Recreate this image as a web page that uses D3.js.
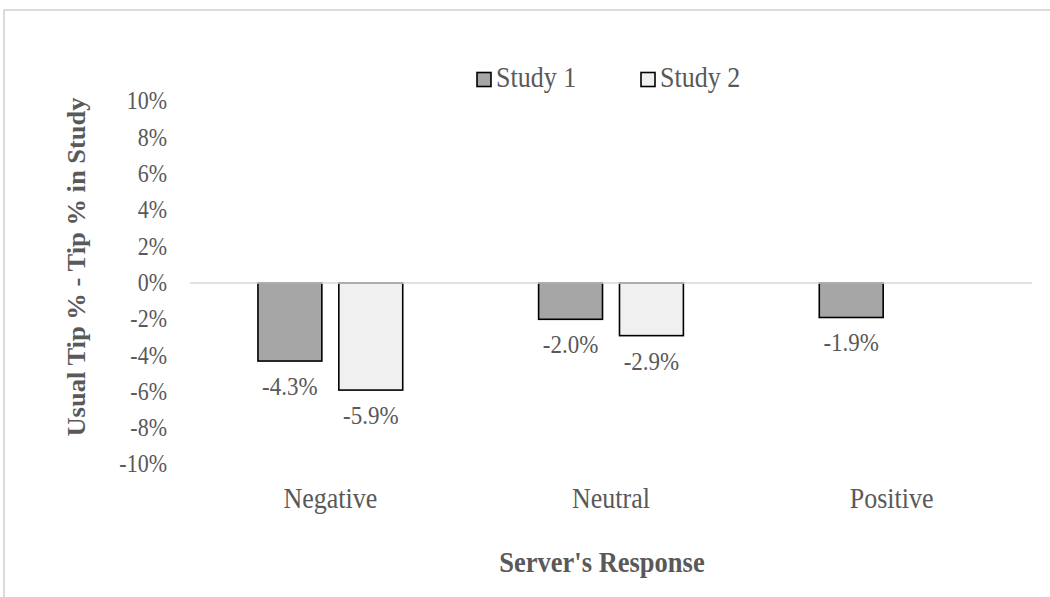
<!DOCTYPE html>
<html>
<head>
<meta charset="utf-8">
<script src="https://cdn.jsdelivr.net/npm/d3@7"></script>
<style>
  html, body { margin: 0; padding: 0; background: #ffffff; }
  svg { display: block; }
  text { font-family: "Liberation Serif", "Times New Roman", serif; fill: #595959; }
</style>
</head>
<body>
<svg id="chart" width="1050" height="597"></svg>
<script>
const categories = ["Negative", "Neutral", "Positive"];
const seriesNames = ["Study 1", "Study 2"];
const study1 = [-4.3, -2.0, -1.9];
const study2 = [-5.9, -2.9, null];
const yTicks = [-10, -8, -6, -4, -2, 0, 2, 4, 6, 8, 10];
const seriesColors = ["#a6a6a6", "#f0f0f0"];
const yTitle = "Usual Tip % - Tip % in Study";
const xTitle = "Server's Response";

const STRETCH = 1.12;
const svg = d3.select("#chart");

// chart border
svg.append("rect")
  .attr("x", 4).attr("y", 10)
  .attr("width", 1200).attr("height", 800)
  .attr("fill", "none")
  .attr("stroke", "#cfcfcf")
  .attr("stroke-width", 1.5);

const plot = { left: 190, right: 1032, top: 101.5, bottom: 464.5 };

const y = d3.scaleLinear().domain([-10, 10]).range([plot.bottom, plot.top]);
const x = d3.scaleBand().domain(categories).range([plot.left, plot.right]).paddingInner(0).paddingOuter(0);
const xs = d3.scaleBand().domain(seriesNames).range([0, x.bandwidth()]).paddingInner(0.21).paddingOuter(0.84);

// y tick labels
const yAxis = d3.axisLeft(y).tickValues(yTicks).tickSize(0).tickPadding(0)
  .tickFormat(d => d + "%");
const gy = svg.append("g").attr("transform", `translate(${167},0)`).call(yAxis);
gy.select(".domain").remove();
gy.selectAll("text")
  .attr("font-size", 22)
  .attr("fill", "#595959")
  .attr("font-family", "Liberation Serif, serif")
  .attr("dy", "0.3em")
  .attr("transform", `scale(1,${STRETCH})`);

// data rows
const rows = categories.map((c, i) => ({ cat: c, vals: [study1[i], study2[i]] }));

const groups = svg.append("g").selectAll("g").data(rows).join("g")
  .attr("transform", d => `translate(${x(d.cat)},0)`);

groups.selectAll("rect")
  .data(d => d.vals.map((v, j) => ({ v, s: seriesNames[j], j })).filter(e => e.v !== null))
  .join("rect")
  .attr("x", e => xs(e.s))
  .attr("width", xs.bandwidth())
  .attr("y", e => y(Math.max(0, e.v)))
  .attr("height", e => Math.abs(y(e.v) - y(0)))
  .attr("fill", e => seriesColors[e.j])
  .attr("stroke", "#000")
  .attr("stroke-width", 1.6);

groups.selectAll("text.lbl")
  .data(d => d.vals.map((v, j) => ({ v, s: seriesNames[j], j })).filter(e => e.v !== null))
  .join("text")
  .attr("class", "lbl")
  .attr("transform", e => `translate(${xs(e.s) + xs.bandwidth() / 2},${y(e.v) + 34}) scale(1,${STRETCH})`)
  .attr("text-anchor", "middle")
  .attr("font-size", 23)
  .text(e => e.v.toFixed(1) + "%");

// zero line
svg.append("line")
  .attr("x1", plot.left).attr("x2", plot.right)
  .attr("y1", y(0)).attr("y2", y(0))
  .attr("stroke", "#d9d9d9").attr("stroke-width", 1.5);

// category labels
const xAxis = d3.axisBottom(x).tickSize(0).tickPadding(0);
const gx = svg.append("g").attr("transform", `translate(0,${508})`).call(xAxis);
gx.select(".domain").remove();
gx.selectAll("text")
  .attr("font-size", 26)
  .attr("fill", "#595959")
  .attr("font-family", "Liberation Serif, serif")
  .attr("y", 0)
  .attr("dy", "0")
  .attr("transform", `scale(1,${STRETCH})`);

// axis titles
svg.append("text")
  .attr("transform", `translate(${85},${267}) scale(1,1.02) rotate(-90)`)
  .attr("text-anchor", "middle")
  .attr("font-size", 26)
  .attr("font-weight", "bold")
  .text(yTitle);

svg.append("text")
  .attr("transform", `translate(602,572) scale(1,${STRETCH})`)
  .attr("text-anchor", "middle")
  .attr("font-size", 26.5)
  .attr("font-weight", "bold")
  .text(xTitle);

// legend
const legendX = [477, 641];
const lg = svg.append("g").selectAll("g").data(seriesNames).join("g")
  .attr("transform", (d, i) => `translate(${legendX[i]},${72.5})`);
lg.append("rect")
  .attr("width", 14).attr("height", 14)
  .attr("fill", (d, i) => seriesColors[i])
  .attr("stroke", "#000").attr("stroke-width", 1.6);
lg.append("text")
  .attr("transform", `translate(19,14) scale(1,${STRETCH})`)
  .attr("font-size", 26)
  .text(d => d);
</script>
</body>
</html>
